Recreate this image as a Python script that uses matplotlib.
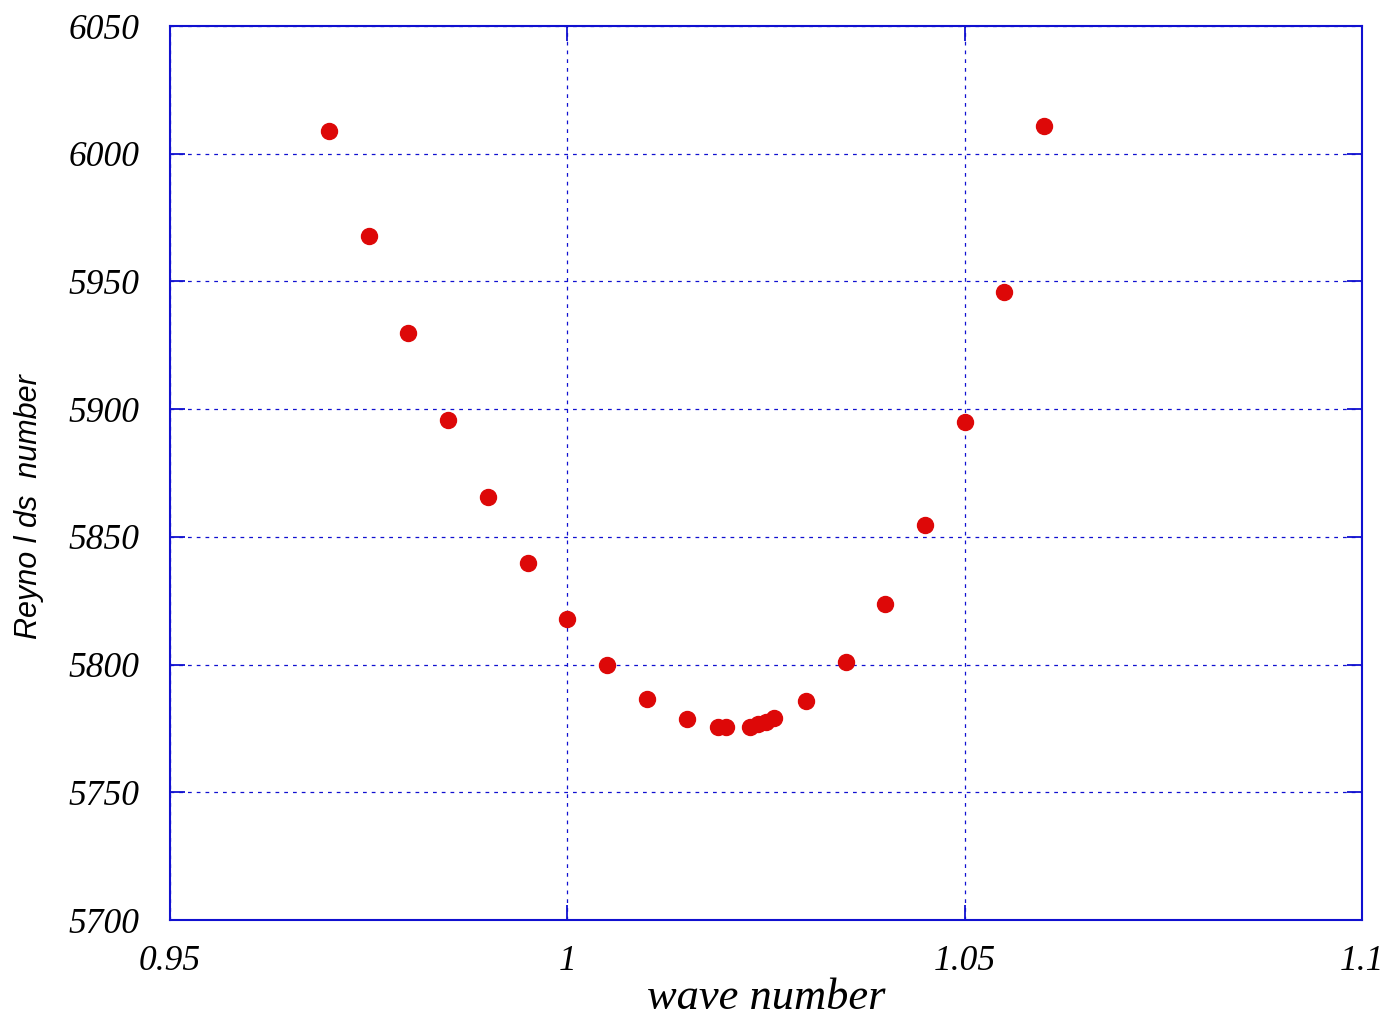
import matplotlib
matplotlib.use("Agg")
import matplotlib.pyplot as plt
import numpy as np

wave_number = [0.970, 0.975, 0.980, 0.985, 0.990, 0.995, 1.000, 1.005, 1.010, 1.015,
               1.019, 1.020, 1.023, 1.024, 1.025, 1.026, 1.030, 1.035, 1.040, 1.045,
               1.050, 1.055, 1.060]
reynolds = [6008.9, 5967.8, 5929.8, 5895.7, 5865.6, 5839.7, 5817.8, 5799.8, 5786.5, 5778.7,
            5775.5, 5775.5, 5775.5, 5776.7, 5777.5, 5779.0, 5785.7, 5801.0, 5823.7, 5854.6,
            5895.0, 5945.9, 6010.8]
xticks = [0.95, 1.0, 1.05, 1.1]
xticklabels = ["0.95", "1", "1.05", "1.1"]
yticks = [5700, 5750, 5800, 5850, 5900, 5950, 6000, 6050]

fig = plt.figure(figsize=(13.86, 10.21), dpi=100)
ax = fig.add_axes([0.1227, 0.0989, 0.86, 0.8756])

blue = "#1010d0"
ax.plot(wave_number, reynolds, "o", color="#dd0808", markersize=11.5, zorder=3)
ax.set_xlim(0.95, 1.1)
ax.set_ylim(5700, 6050)
ax.set_xticks(xticks)
ax.set_xticklabels(xticklabels)
ax.set_yticks(yticks)
ax.grid(True, color=blue, linestyle=(0, (3, 4)), linewidth=0.9)
for s in ax.spines.values():
    s.set_color(blue)
    s.set_linewidth(1.5)
ax.tick_params(direction="in", length=11, width=1.3, color=blue,
               top=True, right=True, labelsize=25.5)
ax.tick_params(axis="x", pad=18)
ax.tick_params(axis="y", pad=22)
for lab in ax.get_xticklabels() + ax.get_yticklabels():
    lab.set_fontfamily("Liberation Serif")
    lab.set_fontstyle("italic")

ax.set_xlabel("wave number", fontsize=32, fontfamily="Liberation Serif",
              fontstyle="italic")
ax.xaxis.set_label_coords(0.5, -0.065)
ax.set_ylabel("Reyno l ds  number", fontsize=22, fontfamily="Liberation Sans",
              fontstyle="italic")
ax.yaxis.set_label_coords(-0.106, 0.462)

fig.savefig("out.png", dpi=100)
